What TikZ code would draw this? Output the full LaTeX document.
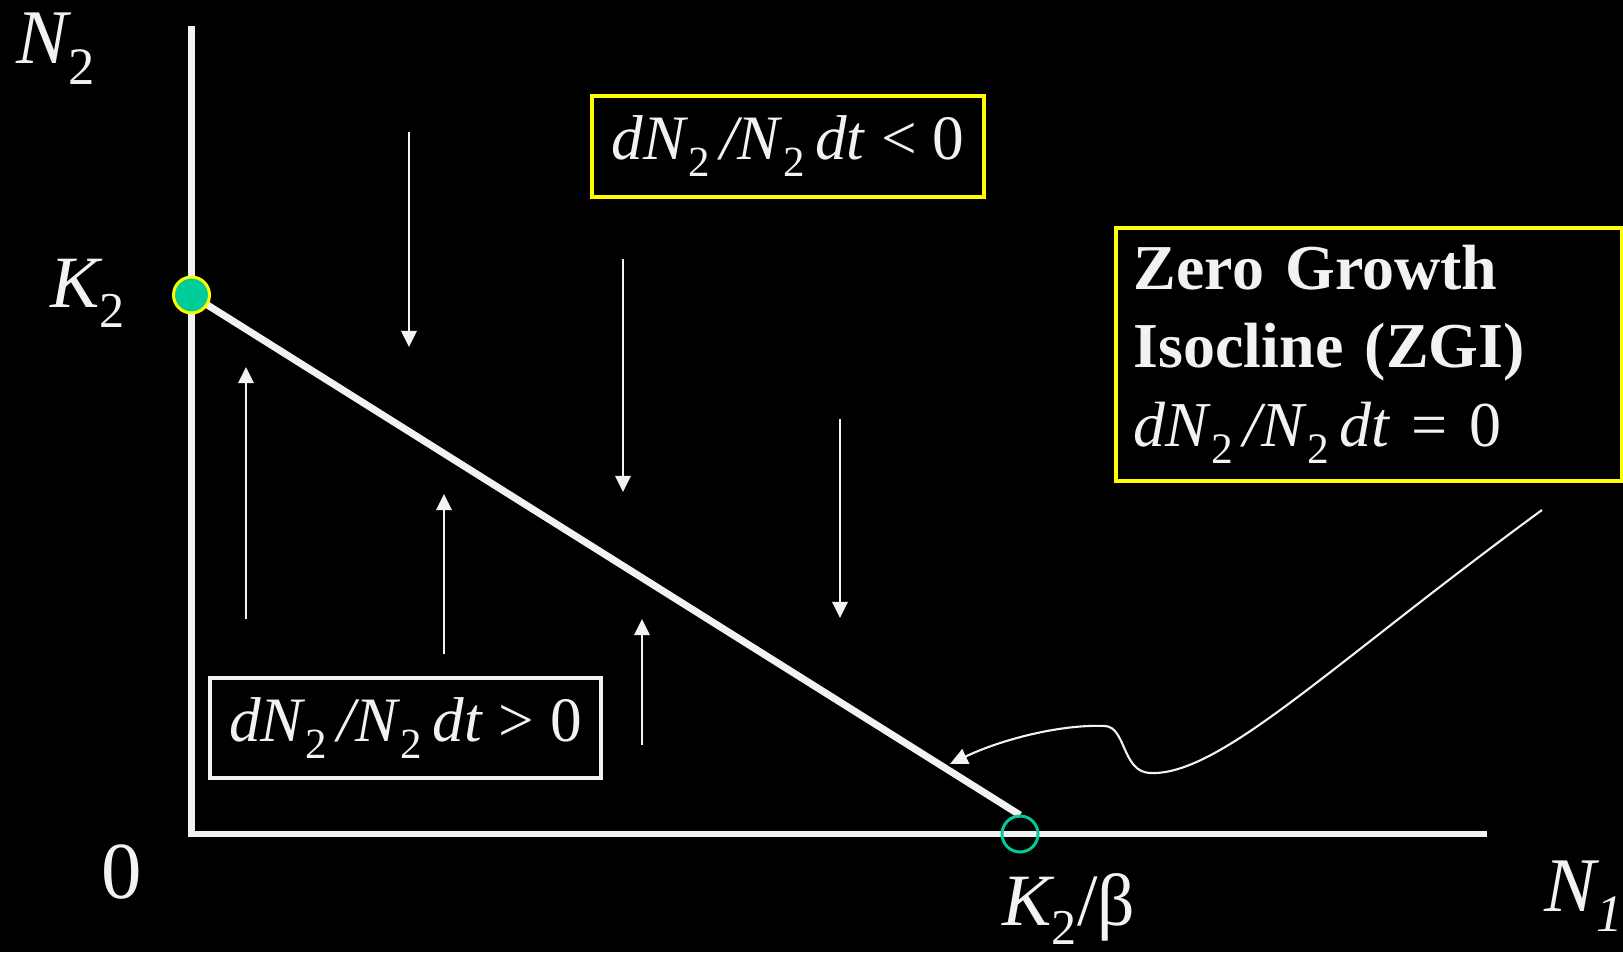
\documentclass[tikz,border=0pt]{standalone}
\usepackage{fontspec}
\setmainfont{Liberation Serif}
\usepackage{tikz}
\usetikzlibrary{arrows.meta, positioning, calc}
\definecolor{SoftWhite}{HTML}{F2F2F2}
\definecolor{IsoGreen}{HTML}{00CC99}
\definecolor{BoxYellow}{HTML}{FFFF00}
% lowered subscript, as on the slide
\newcommand{\lo}[1]{\raisebox{-0.27em}{\scalebox{0.68}{\upshape #1}}}
\newcommand{\rate}{\textit{dN}\lo{2}\,\textit{/N}\lo{2}\,\textit{dt}}

\begin{document}
\begin{tikzpicture}[
  axis/.style={draw=SoftWhite, line width=1.8pt},
  zgi/.style={draw=SoftWhite, line width=2pt},
  flow/.style={-{Triangle[length=4.6pt, width=4.4pt]}, draw=SoftWhite, fill=SoftWhite, line width=0.6pt},
  pointer/.style={-{Triangle[length=5pt, width=4.6pt]}, draw=SoftWhite, line width=0.6pt},
  lab/.style={text=SoftWhite, font=\fontsize{22}{24}\selectfont\itshape, inner sep=0pt},
  ratebox/.style={rectangle, draw=BoxYellow, line width=1pt, text=SoftWhite,
    font=\fontsize{18}{22}\selectfont, minimum width=3.92cm, minimum height=1.01cm, inner sep=0pt},
  eq/.style={circle, draw=BoxYellow, fill=IsoGreen, line width=0.85pt, minimum size=0.36cm, inner sep=0pt},
  cross/.style={circle, draw=IsoGreen, line width=0.85pt, minimum size=0.36cm, inner sep=0pt}
]

\fill[black] (0,0) rectangle (16.23,9.52);
\useasboundingbox (0,0) rectangle (16.23,9.52);

% Axes
\coordinate (origin) at (1.915,1.18);
\coordinate (ytop)   at (1.915,9.26);
\coordinate (xend)   at (14.87,1.18);
\draw[axis] (ytop) -- (origin) -- (xend);

% Isocline
\coordinate (zgiend) at (10.20,1.37);
\draw[zgi] (1.915,6.57) -- (zgiend);
\node[eq]    (k2pt)   at (1.915,6.57) {};
\node[cross] (k2bpt)  at (10.20,1.18) {};

% Axis labels
\node[lab, anchor=base west] (n2lab)  at (0.16,8.88)  {N\lo{2}};
\node[lab, anchor=base west, font=\fontsize{21}{24}\selectfont\itshape] (k2lab) at (0.50,6.44) {K\lo{2}};
\node[lab, anchor=base west, font=\fontsize{23}{24}\selectfont] (zero) at (1.01,0.54) {0};
\node[lab, anchor=base west, font=\fontsize{21}{24}\selectfont\itshape] (k2blab) at (10.02,0.27) {K\lo{2}\upshape/β};
\node[lab, anchor=base west] (n1lab)  at (15.44,0.41) {N\lo{\itshape 1}};

% Rate boxes
\node[ratebox] (minus) at (7.88,8.055) {\rate{} < 0};
\node[ratebox, draw=SoftWhite, minimum width=3.91cm, minimum height=1.0cm] (plus) at (4.055,2.24) {\rate{} > 0};
\node[ratebox, anchor=north west, minimum width=5.06cm, minimum height=2.53cm,
      text width=4.7cm, align=left, font=\fontsize{18.2}{22.4}\selectfont] (zgibox) at (11.14,7.26)
  {\textbf{Zero Growth}\\ \textbf{Isocline (ZGI)}\\ \rate{} = 0};

% Flow arrows above and below the isocline
\foreach \x/\ya/\yb in {4.09/8.20/6.05, 6.23/6.93/4.60, 8.40/5.33/3.34,
                        2.46/3.33/5.85, 4.44/2.98/4.58, 6.42/2.07/3.33}
  \draw[flow] (\x,\ya) -- (\x,\yb);

% Pointer to the ZGI
\coordinate (tail) at (15.42,4.42);
\coordinate (hit)  at (9.50,1.88);
\draw[pointer] (tail) .. controls (13.30,2.87) and (12.20,1.76) .. (11.50,1.79)
  .. controls (11.22,1.80) and (11.26,2.25) .. (11.05,2.26)
  .. controls (10.60,2.28) and (10.00,2.12) .. (hit);

\end{tikzpicture}
\end{document}
